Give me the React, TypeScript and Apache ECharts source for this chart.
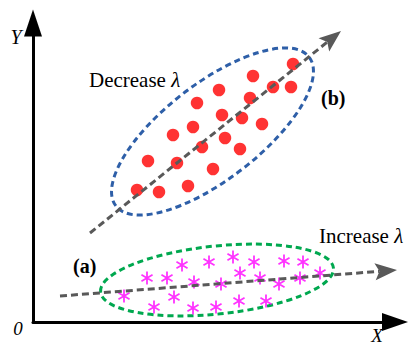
import React, { useEffect, useRef } from 'react';
import * as echarts from 'echarts';

// Data space: x 0..362, y 0..299 (origin at the axes' corner)
const xRange = [0, 362];
const yRange = [0, 299];

// (b) cluster: red dots
const redPoints: [number, number][] = [
  [260, 258], [220, 246], [186, 232], [240, 235], [258, 235],
  [217, 224], [164, 219], [189, 207], [209, 204], [229, 198],
  [160, 195], [140, 187], [192, 184], [207, 173], [169, 175],
  [115, 161], [144, 159], [180, 153], [104, 132], [126, 130],
  [155, 136],
];

// (a) cluster: magenta asterisks
const magentaPoints: [number, number][] = [
  [149, 57], [176, 60], [200, 65], [221, 60], [251, 61], [270, 60],
  [114, 44], [134, 44], [161, 40], [207, 49], [227, 44], [267, 44],
  [287, 49], [188, 38], [246, 38],
  [91, 26], [141, 25], [121, 15], [160, 14], [183, 15], [206, 21], [233, 21],
];

// dashed arrows: [x1, y1, x2 (tip), y2 (tip)]
const arrowB = [57, 89, 308, 291];
const arrowA = [27, 26, 364, 52];

// dashed ellipses: [cx, cy, semi-major, semi-minor, tilt (deg)]
const ellipseB = [179.5, 190.5, 122, 48, 37.6];
const ellipseA = [184, 42, 117, 34, 5.9];

const SERIF = '"Liberation Serif", "Times New Roman", serif';

function asteriskPath(): string {
  const L = 50;
  const w = 7;
  let d = '';
  for (const deg of [0, 60, 120]) {
    const t = (deg * Math.PI) / 180;
    const dx = Math.sin(t);
    const dy = -Math.cos(t);
    const nx = Math.cos(t);
    const ny = Math.sin(t);
    const pts = [
      [L * dx + w * nx, L * dy + w * ny],
      [L * dx - w * nx, L * dy - w * ny],
      [-L * dx - w * nx, -L * dy - w * ny],
      [-L * dx + w * nx, -L * dy + w * ny],
    ];
    d += 'M' + pts.map((p) => p[0].toFixed(2) + ' ' + p[1].toFixed(2)).join(' L') + ' Z ';
  }
  return 'path://' + d;
}

function ellipseRender(color: string) {
  return (params: any, api: any) => {
    const c = api.coord([api.value(0), api.value(1)]);
    const s = api.size([api.value(2), api.value(3)]);
    return {
      type: 'ellipse',
      x: c[0],
      y: c[1],
      rotation: (api.value(4) * Math.PI) / 180,
      shape: { cx: 0, cy: 0, rx: s[0], ry: s[1] },
      style: { fill: 'none', stroke: color, lineWidth: 3, lineDash: [6, 4] },
    };
  };
}

function arrowRender(params: any, api: any) {
  const p1 = api.coord([api.value(0), api.value(1)]);
  const p2 = api.coord([api.value(2), api.value(3)]);
  const dx = p2[0] - p1[0];
  const dy = p2[1] - p1[1];
  const len = Math.sqrt(dx * dx + dy * dy);
  const ux = dx / len;
  const uy = dy / len;
  const nx = -uy;
  const ny = ux;
  const H = 22;
  const W = 8.5;
  const bx = p2[0] - ux * H;
  const by = p2[1] - uy * H;
  const kx = p2[0] - ux * H * 0.8;
  const ky = p2[1] - uy * H * 0.8;
  return {
    type: 'group',
    children: [
      {
        type: 'line',
        shape: { x1: p1[0], y1: p1[1], x2: kx, y2: ky },
        style: { stroke: '#595959', lineWidth: 3, lineDash: [7, 4] },
      },
      {
        type: 'polygon',
        shape: {
          points: [
            [p2[0], p2[1]],
            [bx + nx * W, by + ny * W],
            [kx, ky],
            [bx - nx * W, by - ny * W],
          ],
        },
        style: { fill: '#595959' },
      },
    ],
  };
}

export default function App() {
  const ref = useRef<HTMLDivElement>(null);

  useEffect(() => {
    if (!ref.current) return;
    const chart = echarts.init(ref.current, undefined, { renderer: 'svg' });
    const label = (text: string, x: number, y: number, extra: any = {}) => ({
      type: 'text',
      x,
      y,
      z: 100,
      style: {
        text,
        fill: '#000',
        font: `20px ${SERIF}`,
        textAlign: 'left',
        textVerticalAlign: 'middle',
        ...extra,
      },
    });
    const lambdaRich = {
      n: { fontFamily: SERIF, fontSize: 21, color: '#000' },
      l: { fontFamily: SERIF, fontSize: 21, fontStyle: 'italic', color: '#000' },
    };
    chart.setOption({
      animation: false,
      grid: { left: 33, right: 14, top: 23, bottom: 24 },
      xAxis: {
        type: 'value',
        min: xRange[0],
        max: xRange[1],
        axisLine: {
          show: true,
          symbol: ['none', 'triangle'],
          symbolSize: [18, 26],
          lineStyle: { color: '#000', width: 3 },
        },
        axisTick: { show: false },
        axisLabel: { show: false },
        splitLine: { show: false },
      },
      yAxis: {
        type: 'value',
        min: yRange[0],
        max: yRange[1],
        axisLine: {
          show: true,
          symbol: ['none', 'triangle'],
          symbolSize: [18, 27],
          lineStyle: { color: '#000', width: 3 },
        },
        axisTick: { show: false },
        axisLabel: { show: false },
        splitLine: { show: false },
      },
      series: [
        {
          type: 'custom',
          name: 'ellipse (b)',
          renderItem: ellipseRender('#2E5FA8'),
          data: [ellipseB],
          z: 2,
        },
        {
          type: 'custom',
          name: 'ellipse (a)',
          renderItem: ellipseRender('#00A84F'),
          data: [ellipseA],
          z: 2,
        },
        {
          type: 'custom',
          name: 'arrows',
          renderItem: arrowRender,
          data: [arrowB, arrowA],
          z: 4,
        },
        {
          type: 'scatter',
          name: 'Decrease',
          data: redPoints,
          symbol: 'circle',
          symbolSize: 12.5,
          itemStyle: { color: '#FF0000' },
          z: 3,
        },
        {
          type: 'scatter',
          name: 'Increase',
          data: magentaPoints,
          symbol: asteriskPath(),
          symbolSize: [12, 13],
          itemStyle: { color: '#FF00FF' },
          z: 3,
        },
      ],
      graphic: [
        {
          type: 'text',
          x: 89,
          y: 80,
          style: {
            text: '{n|Decrease }{l|λ}',
            rich: lambdaRich,
            textVerticalAlign: 'middle',
          },
        },
        {
          type: 'text',
          x: 319,
          y: 236,
          style: {
            text: '{n|Increase }{l|λ}',
            rich: lambdaRich,
            textVerticalAlign: 'middle',
          },
        },
        label('(b)', 321, 98, { font: `bold 20px ${SERIF}` }),
        label('(a)', 73, 266, { font: `bold 20px ${SERIF}` }),
        label('Y', 16, 37, { font: `italic 20px ${SERIF}`, textAlign: 'center' }),
        label('0', 18, 328, { font: `italic 19px ${SERIF}`, textAlign: 'center' }),
        label('X', 377, 335, { font: `italic 19px ${SERIF}`, textAlign: 'center' }),
      ],
    });
    return () => chart.dispose();
  }, []);

  return (
    <div
      ref={ref}
      style={{ position: 'fixed', left: 0, top: 0, width: 409, height: 346, background: '#fff' }}
    />
  );
}
